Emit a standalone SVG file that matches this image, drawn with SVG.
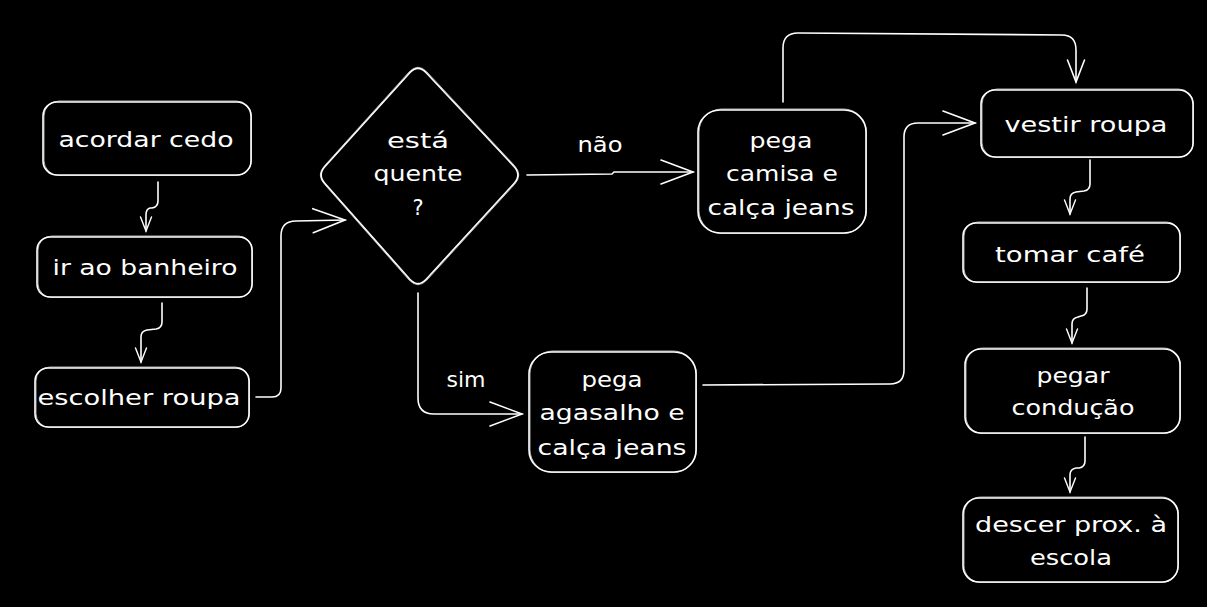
<svg xmlns="http://www.w3.org/2000/svg" xmlns:xlink="http://www.w3.org/1999/xlink" width="1207" height="607" viewBox="0 0 1207 607">
<style>
.sh{fill:#000;stroke:#fff;stroke-width:1.6;stroke-linejoin:round}
.sh2{fill:none;stroke:#fff;stroke-width:0.9;opacity:0.75}
.c{fill:none;stroke:#fff;stroke-width:1.6;stroke-linecap:round;stroke-linejoin:round}
.t{font-family:"DejaVu Sans","Liberation Sans",sans-serif;font-size:21px;fill:#fff;text-anchor:middle}
</style>
<defs>
<marker id="big" markerUnits="userSpaceOnUse" viewBox="-36 -16 40 32" markerWidth="40" markerHeight="32" refX="0" refY="0" orient="auto">
<path d="M-32 -12 L0 0 L-32 12" fill="none" stroke="#fff" stroke-width="1.6" stroke-linecap="round"/>
</marker>
<marker id="mid" markerUnits="userSpaceOnUse" viewBox="-26 -12 30 24" markerWidth="30" markerHeight="24" refX="0" refY="0" orient="auto">
<path d="M-22 -8.5 L0 0 L-22 8.5" fill="none" stroke="#fff" stroke-width="1.6" stroke-linecap="round"/>
</marker>
<marker id="sm" markerUnits="userSpaceOnUse" viewBox="-18 -9 22 18" markerWidth="22" markerHeight="18" refX="0" refY="0" orient="auto">
<path d="M-14 -5.5 L0 0 L-14 5.5" fill="none" stroke="#fff" stroke-width="1.4" stroke-linecap="round"/>
</marker>
</defs>
<rect x="0" y="0" width="1207" height="607" fill="#000"/>

<g id="connectors">
<path class="c" d="M158 182 L158 201 Q158 207 152 208 L150 208 Q146 209 146 215 L146 231" marker-end="url(#sm)"/>
<path class="c" d="M162 303 L162 322 Q162 328 156 329 L147 330 Q141 331 141 337 L141 362" marker-end="url(#sm)"/>
<path class="c" d="M256 397 L272 397 Q281 397 281 388 L281 236 Q281 221 296 221 L345 220" marker-end="url(#big)"/>
<path class="c" d="M527 175 L612 174 L614 172 L693 172" marker-end="url(#big)"/>
<path class="c" d="M418 293 L418 398 Q418 414 434 414 L522 414" marker-end="url(#big)"/>
<path class="c" d="M703 385 L890 384 Q904 384 904 370 L904 137 Q904 123 918 123 L975 123" marker-end="url(#big)"/>
<path class="c" d="M783 102 L783 48 Q783 33 798 33 L1062 35 Q1076 35 1076 50 L1076 82" marker-end="url(#mid)"/>
<path class="c" d="M1090 160 L1090 184 Q1090 190 1084 191 L1076 192 Q1070 193 1070 199 L1070 214" marker-end="url(#sm)"/>
<path class="c" d="M1087 288 L1087 309 Q1087 315 1081 316 L1078 317 Q1072 318 1072 324 L1072 343" marker-end="url(#sm)"/>
<path class="c" d="M1085 437 L1085 461 Q1085 467 1079 468 L1076 468 Q1070 469 1070 475 L1070 492" marker-end="url(#sm)"/>
<text class="t" x="600" y="152" textLength="45" lengthAdjust="spacingAndGlyphs">não</text>
<text class="t" x="466" y="387" textLength="39" lengthAdjust="spacingAndGlyphs">sim</text>
</g>

<g id="acordar">
<rect class="sh" x="43" y="102" width="208" height="73" rx="14"/>
<rect class="sh2" x="44" y="101" width="207.5" height="74.5" rx="15"/>
<text class="t" x="146" y="147" textLength="175" lengthAdjust="spacingAndGlyphs">acordar cedo</text>
</g>
<g id="banheiro">
<rect class="sh" x="37" y="237" width="215" height="60" rx="13"/>
<rect class="sh2" x="38" y="236" width="214.5" height="61.5" rx="14"/>
<text class="t" x="145" y="275" textLength="185" lengthAdjust="spacingAndGlyphs">ir ao banheiro</text>
</g>
<g id="escolher">
<rect class="sh" x="35" y="368" width="214" height="59" rx="13"/>
<rect class="sh2" x="36" y="367" width="213.5" height="60.5" rx="14"/>
<text class="t" x="139" y="405" textLength="203" lengthAdjust="spacingAndGlyphs">escolher roupa</text>
</g>
<g id="decisao">
<path class="sh" d="M426.2 72.8 L513.8 166.2 Q522 175 513.8 183.8 L426.2 279.2 Q418 288 409.8 279.2 L325.2 183.8 Q317 175 325.2 166.2 L409.8 72.8 Q418 64 426.2 72.8 Z"/>
<path class="sh2" d="M427 72 L514.6 165.6 Q523 175 514.6 184.4 L427 280 Q418 289.5 409 280 L324.6 184.4 Q316 175 324.6 165.6 L409 72 Q418 62.5 427 72 Z"/>
<text class="t" x="418" y="148" textLength="62" lengthAdjust="spacingAndGlyphs">está</text>
<text class="t" x="418" y="181" textLength="89" lengthAdjust="spacingAndGlyphs">quente</text>
<text class="t" x="418" y="215">?</text>
</g>
<g id="camisa">
<rect class="sh" x="698" y="110" width="168" height="123" rx="22"/>
<rect class="sh2" x="699" y="109" width="167.5" height="124.5" rx="23"/>
<text class="t" x="781" y="148" textLength="63" lengthAdjust="spacingAndGlyphs">pega</text>
<text class="t" x="782" y="181" textLength="112" lengthAdjust="spacingAndGlyphs">camisa e</text>
<text class="t" x="781" y="215" textLength="147" lengthAdjust="spacingAndGlyphs">calça jeans</text>
</g>
<g id="agasalho">
<rect class="sh" x="529" y="352" width="167" height="120" rx="22"/>
<rect class="sh2" x="530" y="351" width="166.5" height="121.5" rx="23"/>
<text class="t" x="612" y="387" textLength="61" lengthAdjust="spacingAndGlyphs">pega</text>
<text class="t" x="612" y="420" textLength="145" lengthAdjust="spacingAndGlyphs">agasalho e</text>
<text class="t" x="612" y="455" textLength="149" lengthAdjust="spacingAndGlyphs">calça jeans</text>
</g>
<g id="vestir">
<rect class="sh" x="981" y="90" width="212" height="67" rx="14"/>
<rect class="sh2" x="982" y="89" width="211.5" height="68.5" rx="15"/>
<text class="t" x="1086" y="132" textLength="163" lengthAdjust="spacingAndGlyphs">vestir roupa</text>
</g>
<g id="cafe">
<rect class="sh" x="963" y="223" width="217" height="59" rx="13"/>
<rect class="sh2" x="964" y="222" width="216.5" height="60.5" rx="14"/>
<text class="t" x="1070" y="262" textLength="150" lengthAdjust="spacingAndGlyphs">tomar café</text>
</g>
<g id="conducao">
<rect class="sh" x="965" y="349" width="215" height="84" rx="16"/>
<rect class="sh2" x="966" y="348" width="214.5" height="85.5" rx="17"/>
<text class="t" x="1073" y="383" textLength="73" lengthAdjust="spacingAndGlyphs">pegar</text>
<text class="t" x="1073" y="415" textLength="123" lengthAdjust="spacingAndGlyphs">condução</text>
</g>
<g id="descer">
<rect class="sh" x="963" y="498" width="215" height="84" rx="16"/>
<rect class="sh2" x="964" y="497" width="214.5" height="85.5" rx="17"/>
<text class="t" x="1071" y="532" textLength="192" lengthAdjust="spacingAndGlyphs">descer prox. à</text>
<text class="t" x="1071" y="565" textLength="82" lengthAdjust="spacingAndGlyphs">escola</text>
</g>
</svg>
